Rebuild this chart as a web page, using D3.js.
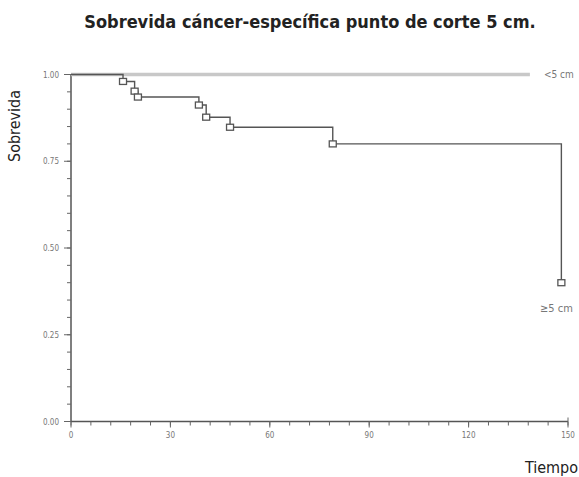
<!DOCTYPE html>
<html>
<head>
<meta charset="utf-8">
<script src="https://cdn.jsdelivr.net/npm/d3@7"></script>
<style>
  body { margin: 0; background: #fff; }
  svg { display: block; }
  .title { font-family: "DejaVu Sans Condensed", sans-serif; font-weight: bold; font-size: 18px; fill: #222; }
  .lab { font-family: "DejaVu Sans Condensed", sans-serif; font-size: 16px; fill: #222; }
  .tick-lab { font-family: "DejaVu Sans Condensed", sans-serif; font-size: 8px; fill: #777; }
</style>
</head>
<body>
<script>
// curve for tumours >= 5 cm: [time, survival] at each step
var bigTimes = [0, 15.7, 19.2, 20.2, 38.6, 40.8, 48, 79, 148];
var bigSurv  = [1.00, 0.980, 0.952, 0.935, 0.912, 0.877, 0.848, 0.800, 0.400];
// curve for tumours < 5 cm stays flat
var smallTimes = [0, 138.5];
var smallSurv  = [1.00, 1.00];

var xMajor = [0, 30, 60, 90, 120, 150];
var yMajor = [0, 0.25, 0.5, 0.75, 1.0];
var yLabels = ['0.00', '0.25', '0.50', '0.75', '1.00'];

var W = 579, H = 477;
var margin = {top: 74.5, right: 11, bottom: 55.5, left: 71};

var svg = d3.select('body').append('svg')
    .attr('width', W)
    .attr('height', H);

var x = d3.scaleLinear().domain([0, 150]).range([margin.left, W - margin.right]);
var y = d3.scaleLinear().domain([0, 1]).range([H - margin.bottom, margin.top]);

svg.append('text')
    .attr('class', 'title')
    .attr('x', 310)
    .attr('y', 28)
    .attr('text-anchor', 'middle')
    .text('Sobrevida cáncer-específica punto de corte 5 cm.');

// y axis
var yAxis = svg.append('g');
yAxis.append('line')
    .attr('x1', x(0)).attr('x2', x(0))
    .attr('y1', y(0)).attr('y2', y(1))
    .style('stroke', '#555').style('stroke-width', 1.5);
yAxis.selectAll('line.minor')
    .data(d3.range(0, 1.0001, 0.05))
    .enter().append('line')
    .attr('class', 'minor')
    .attr('x1', x(0) - 4).attr('x2', x(0))
    .attr('y1', function(d) { return y(d); })
    .attr('y2', function(d) { return y(d); })
    .style('stroke', '#666').style('stroke-width', 1);
yAxis.selectAll('line.major')
    .data(yMajor)
    .enter().append('line')
    .attr('class', 'major')
    .attr('x1', x(0) - 7).attr('x2', x(0))
    .attr('y1', function(d) { return y(d); })
    .attr('y2', function(d) { return y(d); })
    .style('stroke', '#666').style('stroke-width', 1);
yAxis.selectAll('text')
    .data(yMajor)
    .enter().append('text')
    .attr('class', 'tick-lab')
    .attr('x', x(0) - 12)
    .attr('y', function(d) { return y(d) + 3; })
    .attr('text-anchor', 'end')
    .text(function(d, i) { return yLabels[i]; });

// x axis
var xAxis = svg.append('g');
xAxis.append('line')
    .attr('x1', x(0)).attr('x2', x(150))
    .attr('y1', y(0)).attr('y2', y(0))
    .style('stroke', '#555').style('stroke-width', 1.5);
xAxis.selectAll('line.minor')
    .data(d3.range(0, 150.001, 6))
    .enter().append('line')
    .attr('class', 'minor')
    .attr('x1', function(d) { return x(d); })
    .attr('x2', function(d) { return x(d); })
    .attr('y1', y(0)).attr('y2', y(0) + 4)
    .style('stroke', '#666').style('stroke-width', 1);
xAxis.selectAll('line.major')
    .data(xMajor)
    .enter().append('line')
    .attr('class', 'major')
    .attr('x1', function(d) { return x(d); })
    .attr('x2', function(d) { return x(d); })
    .attr('y1', y(0)).attr('y2', y(0) + 6)
    .style('stroke', '#666').style('stroke-width', 1);
xAxis.append('line')
    .attr('x1', x(150)).attr('x2', x(150))
    .attr('y1', y(0) - 4).attr('y2', y(0))
    .style('stroke', '#666').style('stroke-width', 1);
xAxis.selectAll('text')
    .data(xMajor)
    .enter().append('text')
    .attr('class', 'tick-lab')
    .attr('x', function(d) { return x(d); })
    .attr('y', y(0) + 16)
    .attr('text-anchor', 'middle')
    .text(function(d) { return d; });

// axis titles
svg.append('text')
    .attr('class', 'lab')
    .attr('transform', 'translate(20,' + 126 + ') rotate(-90)')
    .attr('text-anchor', 'middle')
    .text('Sobrevida');
svg.append('text')
    .attr('class', 'lab')
    .attr('x', 578)
    .attr('y', 473)
    .attr('text-anchor', 'end')
    .text('Tiempo');

var stepLine = d3.line()
    .x(function(d) { return x(d[0]); })
    .y(function(d) { return y(d[1]); })
    .curve(d3.curveStepAfter);

// < 5 cm
svg.append('path')
    .datum(d3.zip(smallTimes, smallSurv))
    .attr('d', stepLine)
    .style('fill', 'none')
    .style('stroke', '#c8c8c8')
    .style('stroke-width', 3.5);

// >= 5 cm
var bigPts = d3.zip(bigTimes, bigSurv);
svg.append('path')
    .datum(bigPts)
    .attr('d', stepLine)
    .style('fill', 'none')
    .style('stroke', '#555')
    .style('stroke-width', 1.4);

svg.selectAll('rect.mark')
    .data(bigPts.slice(1))
    .enter().append('rect')
    .attr('class', 'mark')
    .attr('x', function(d) { return x(d[0]) - 3.5; })
    .attr('y', function(d) { return y(d[1]) - 3; })
    .attr('width', 7)
    .attr('height', 6)
    .style('fill', '#fff')
    .style('stroke', '#555')
    .style('stroke-width', 1.3);

svg.append('text')
    .attr('class', 'tick-lab')
    .attr('x', x(smallTimes[1]) + 14)
    .attr('y', y(1) + 3)
    .style('font-size', '10px')
    .text('<5 cm');
svg.append('text')
    .attr('class', 'tick-lab')
    .attr('x', 540)
    .attr('y', y(0.4) + 29)
    .style('font-size', '11px')
    .text('≥5 cm');
</script>
</body>
</html>
